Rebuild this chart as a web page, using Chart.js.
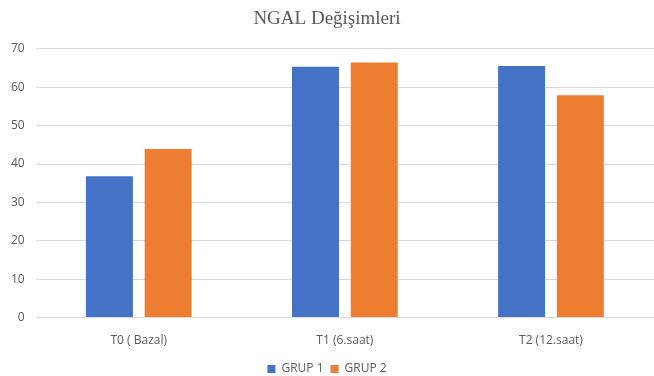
<!DOCTYPE html>
<html>
<head>
<meta charset="utf-8">
<script src="https://cdn.jsdelivr.net/npm/chart.js@4/dist/chart.umd.min.js"></script>
<style>
  html, body { margin: 0; padding: 0; background: #fff; }
  #wrap { width: 654px; height: 376px; }
</style>
</head>
<body>
<div id="wrap"><canvas id="ngalChart"></canvas></div>
<script>
// values
const categories = ['T0 ( Bazal)', 'T1 (6.saat)', 'T2 (12.saat)'];
const grup1 = [36.8, 65.3, 65.5];
const grup2 = [43.9, 66.4, 57.9];
const yTicks = [0, 10, 20, 30, 40, 50, 60, 70];

const tickColor = '#595959';
const gridColor = '#d9d9d9';

new Chart(document.getElementById('ngalChart'), {
  type: 'bar',
  data: {
    labels: categories,
    datasets: [
      { label: 'GRUP 1', data: grup1, backgroundColor: '#4472c4' },
      { label: 'GRUP 2', data: grup2, backgroundColor: '#ed7d31' }
    ]
  },
  options: {
    animation: false,
    responsive: true,
    maintainAspectRatio: false,
    layout: { padding: { left: 0, right: 0, top: 0, bottom: -9 } },
    categoryPercentage: 0.57,
    barPercentage: 0.8,
    scales: {
      x: {
        grid: { display: false },
        border: { display: false },
        ticks: { color: tickColor, font: { family: 'Open Sans', size: 12 }, padding: 8 }
      },
      y: {
        min: 0, max: 70,
        afterBuildTicks: axis => { axis.ticks = yTicks.map(v => ({ value: v })); },
        grid: { color: gridColor, lineWidth: 1, drawTicks: false },
        border: { display: false },
        ticks: { color: tickColor, font: { family: 'Open Sans', size: 12 }, padding: 11 }
      }
    },
    plugins: {
      title: {
        display: true,
        text: 'NGAL Değişimleri',
        color: '#595959',
        font: { family: 'Liberation Serif', size: 19, weight: 'normal' },
        padding: { top: 8, bottom: 18 }
      },
      legend: {
        position: 'bottom',
        labels: {
          color: tickColor,
          font: { family: 'Open Sans', size: 12 },
          boxWidth: 8, boxHeight: 8, padding: 7
        }
      },
      tooltip: { enabled: false }
    }
  }
});
</script>
</body>
</html>
